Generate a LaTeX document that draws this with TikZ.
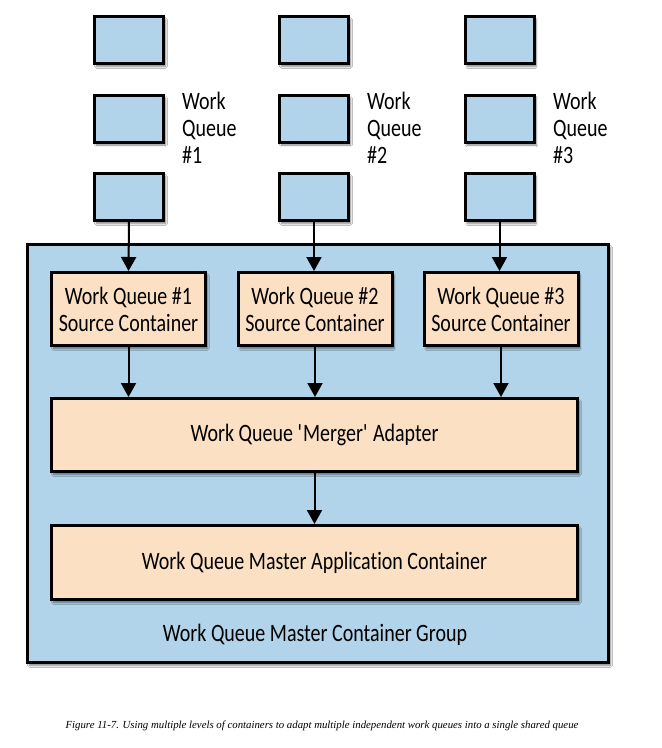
\documentclass[tikz,border=0pt]{standalone}
\usepackage{fontspec}
\setmainfont[FakeStretch=0.8,Ligatures={TeX,NoCommon}]{Carlito}
\newfontfamily\capfont{Liberation Serif}
\usetikzlibrary{arrows.meta,shadows.blur}

\definecolor{queueblue}{RGB}{177,212,234}
\definecolor{boxpeach}{RGB}{252,224,196}

\tikzset{
  shade/.style={blur shadow={shadow xshift=2pt,shadow yshift=-3pt,shadow blur steps=6,shadow opacity=50}},
  qbox/.style={draw,line width=3pt,fill=queueblue,minimum width=69pt,minimum height=47pt,shade},
  cbox/.style={draw,line width=3pt,fill=boxpeach,minimum height=73pt,inner sep=0pt,align=center,
    font=\fontsize{25}{27}\selectfont,shade},
  qlabel/.style={anchor=west,align=left,inner sep=0pt,font=\fontsize{25}{27}\selectfont},
  flow/.style={line width=2pt,-{Triangle[width=15pt,length=14pt]}},
}

\begin{document}
\begin{tikzpicture}[x=1pt,y=-1pt]
\fill[white] (0,0) rectangle (662,748);

% group box
\node[draw,line width=3pt,fill=queueblue,minimum width=581pt,minimum height=418pt,shade] (group) at (318,453.5) {};
\node[font=\fontsize{25}{27}\selectfont] (grouplbl) at (315,635) {Work Queue Master Container Group};

% work queues
\node[qbox] (q1a) at (129,40) {};
\node[qbox] (q1b) at (129,118.5) {};
\node[qbox] (q1c) at (129,197) {};
\node[qbox] (q2a) at (314,40) {};
\node[qbox] (q2b) at (314,118.5) {};
\node[qbox] (q2c) at (314,197) {};
\node[qbox] (q3a) at (499.5,40) {};
\node[qbox] (q3b) at (499.5,118.5) {};
\node[qbox] (q3c) at (499.5,197) {};

\node[qlabel] (lbl1) at (182,128) {Work\\Queue\\\#1};
\node[qlabel] (lbl2) at (367,128) {Work\\Queue\\\#2};
\node[qlabel] (lbl3) at (553,128) {Work\\Queue\\\#3};

% containers
\node[cbox,minimum width=154pt] (src1) at (128.5,309) {Work Queue \#1\\Source Container};
\node[cbox,minimum width=154pt] (src2) at (315,309) {Work Queue \#2\\Source Container};
\node[cbox,minimum width=154pt] (src3) at (501,309) {Work Queue \#3\\Source Container};
\node[cbox,minimum width=526pt] (merger) at (314.5,435) {Work Queue \textquotesingle Merger\textquotesingle\ Adapter};
\node[cbox,minimum width=526pt,minimum height=74pt] (master) at (314.5,562.5) {Work Queue Master Application Container};

% arrows
\draw[flow] (q1c.south) -- (src1.north);
\draw[flow] (q2c.south) -- (q2c.south |- src2.north);
\draw[flow] (q3c.south) -- (q3c.south |- src3.north);
\draw[flow] (src1.south) -- (src1.south |- merger.north);
\draw[flow] (src2.south) -- (src2.south |- merger.north);
\draw[flow] (src3.south) -- (src3.south |- merger.north);
\draw[flow] (merger.south) -- (master.north);

\node[font=\capfont\itshape\fontsize{10.8}{13}\selectfont] (caption) at (322,726)
  {Figure 11-7. Using multiple levels of containers to adapt multiple independent work queues into a single shared queue};
\end{tikzpicture}
\end{document}
